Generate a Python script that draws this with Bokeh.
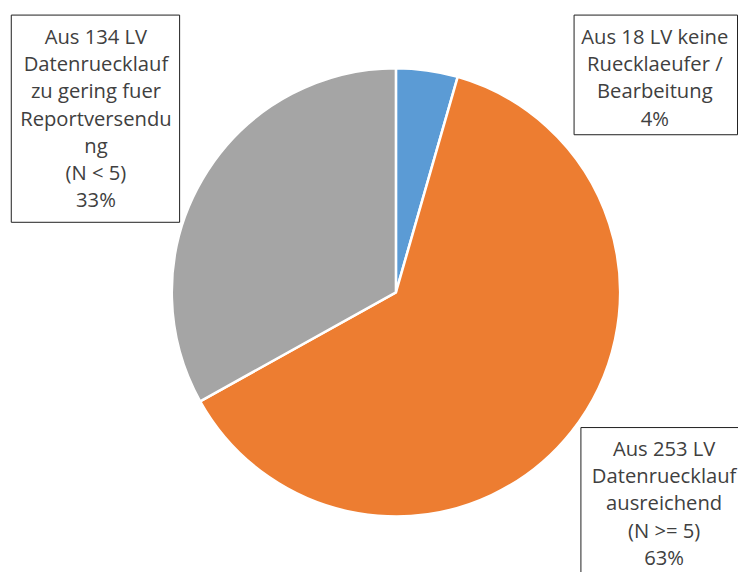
from math import pi
from bokeh.plotting import figure
from bokeh.models import Range1d, ColumnDataSource
from bokeh.core.properties import value
from bokeh.embed import file_html
from bokeh.resources import INLINE

# ---- data ----
categories = ["keine Ruecklaeufer / Bearbeitung", "Datenruecklauf ausreichend", "Datenruecklauf zu gering"]
counts = [18, 253, 134]
colors = ["#5B9BD5", "#ED7D31", "#A5A5A5"]
label_lines = [
    ["Aus 18 LV keine", "Ruecklaeufer /", "Bearbeitung", "4%"],
    ["Aus 253 LV", "Datenruecklauf", "ausreichend", "(N >= 5)", "63%"],
    ["Aus 134 LV", "Datenruecklauf", "zu gering fuer", "Reportversendu", "ng", "(N < 5)", "33%"],
]

# ---- layout (reference pixel coordinates, scaled into the figure) ----
W, H = 738, 572
REF_W, REF_H = 754, 588
def sy(Y):
    return REF_H - Y

cx, cy, r = 404, 300, 229
boxes = [  # left, right, top, bottom, text center x, first line y
    (586, 753, 15, 138, 668.5, 36.5),
    (593, 770, 439, 610, 678, 460),
    (11, 183, 15, 228, 97.5, 36.5),
]
line_h = 28

p = figure(width=W, height=H, output_backend="svg", toolbar_location=None,
           x_range=Range1d(0, REF_W), y_range=Range1d(0, REF_H),
           min_border=0)
p.axis.visible = False
p.grid.visible = False
p.outline_line_color = None
p.background_fill_color = "white"
p.border_fill_color = "white"

total = float(sum(counts))
starts, ends = [], []
acc = 0.0
for c in counts:
    a0 = pi / 2 - 2 * pi * acc / total
    acc += c
    a1 = pi / 2 - 2 * pi * acc / total
    starts.append(a0)
    ends.append(a1)

src = ColumnDataSource(dict(x=[cx] * len(counts), y=[sy(cy)] * len(counts),
                            start=starts, end=ends, color=colors, cat=categories))
p.wedge(x="x", y="y", radius=r, start_angle="start", end_angle="end",
        direction="clock", fill_color="color", line_color="white", line_width=2.5,
        source=src)

for (l, rr, t, b, tx, y0), lines in zip(boxes, label_lines):
    p.quad(left=[l], right=[rr], top=[sy(t)], bottom=[sy(b)],
           fill_color="white", line_color="#202020", line_width=1)
    xs = [tx] * len(lines)
    ys = [sy(y0 + i * line_h) for i in range(len(lines))]
    p.text(x=xs, y=ys, text=lines, text_align="center", text_baseline="middle",
           text_font=value("Open Sans"), text_font_size="20.2px", text_color="#404040")

open("out.html", "w").write(file_html(p, INLINE))
